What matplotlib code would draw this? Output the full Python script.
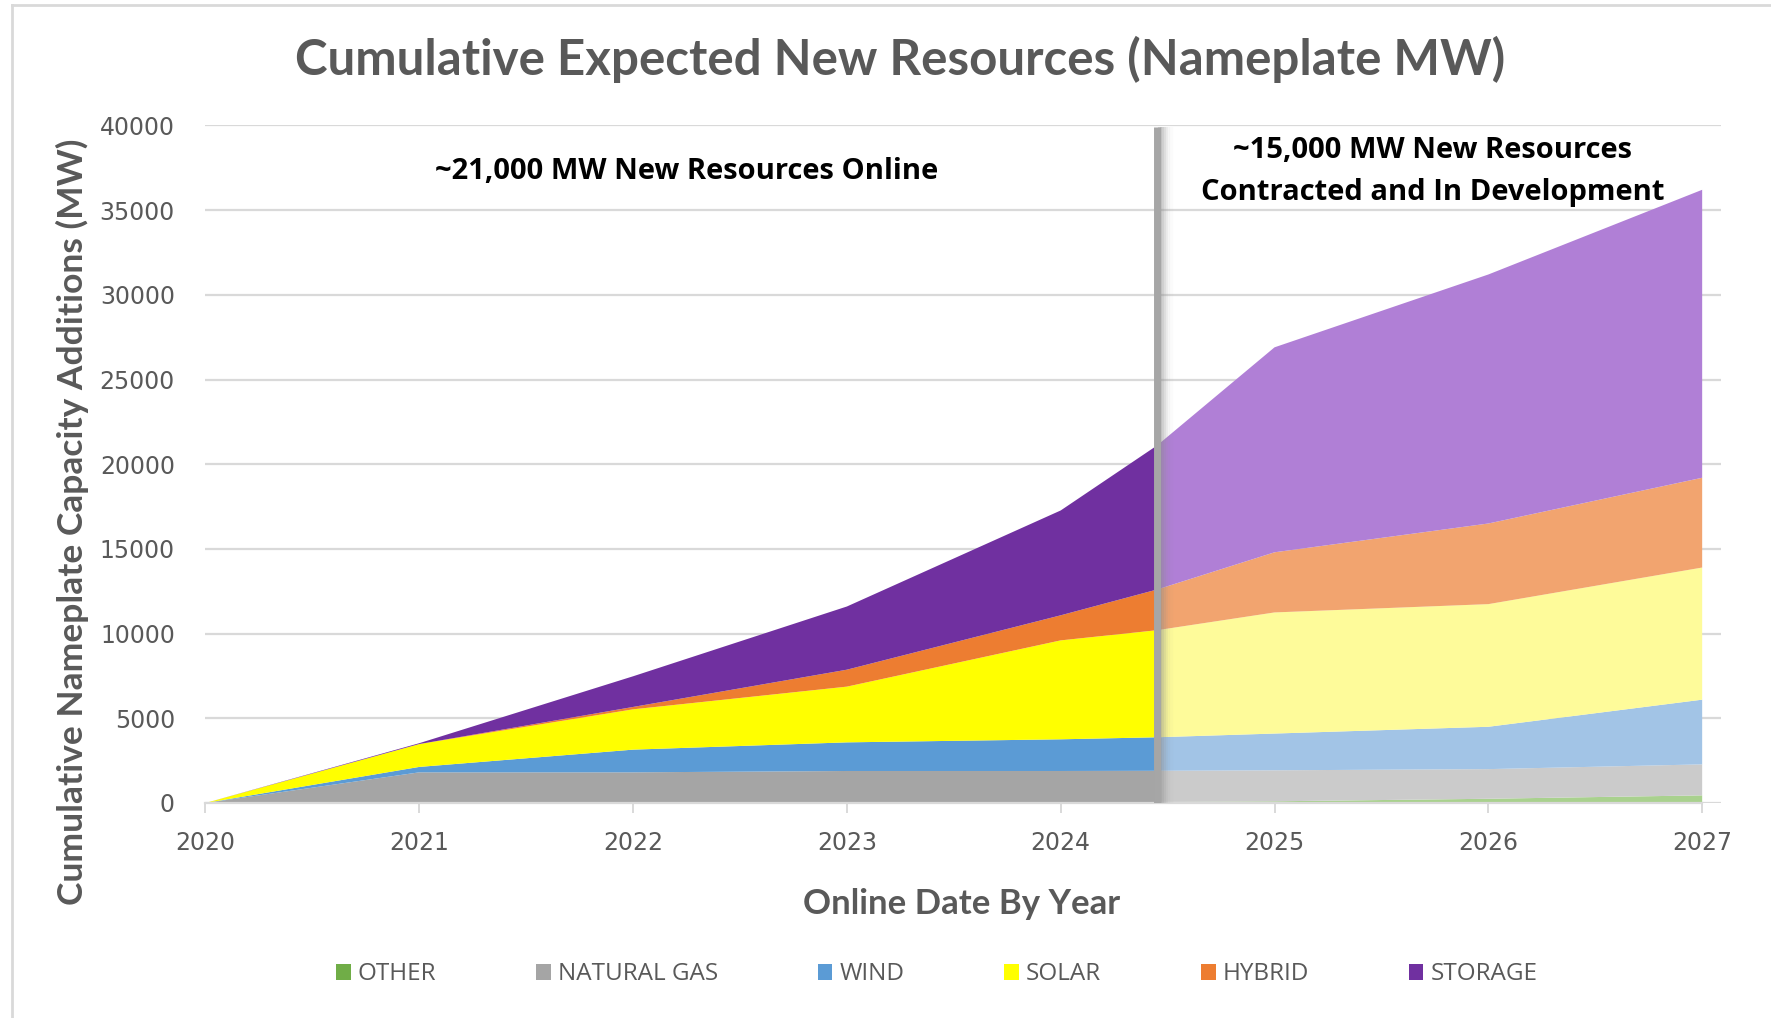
import matplotlib
matplotlib.use('Agg')

import matplotlib.pyplot as plt
from matplotlib.lines import Line2D

# Cumulative stacked resources, one point per year plus the "today" split
years = [2020, 2021, 2022, 2023, 2024, 2024.45, 2025, 2026, 2027]
split = 5  # index of the divider point
other = [0, 0, 0, 20, 50, 60, 100, 250, 450]
gas = [0, 1810, 1810, 1870, 1840, 1840, 1830, 1750, 1830]
wind = [0, 320, 1340, 1690, 1870, 1980, 2170, 2500, 3820]
solar = [0, 1350, 2380, 3290, 5840, 6320, 7150, 7240, 7800]
hybrid = [0, 0, 140, 1000, 1480, 2400, 3550, 4760, 5300]
storage = [0, 50, 1810, 3730, 6190, 8500, 12100, 14700, 17000]

labels = ['OTHER', 'NATURAL GAS', 'WIND', 'SOLAR', 'HYBRID', 'STORAGE']
dark = ['#70AD47', '#A5A5A5', '#5B9BD5', '#FFFF00', '#ED7D31', '#7030A0']
light = ['#A9D18E', '#CBCBCB', '#A2C4E6', '#FEFB9A', '#F2A46F', '#B07FD6']
tick_years = [2020, 2021, 2022, 2023, 2024, 2025, 2026, 2027]

GRAY = '#595959'

fig = plt.figure(figsize=(17.71, 10.18), dpi=100)
ax = fig.add_axes([0.116, 0.2112, 0.856, 0.6656])

series = [other, gas, wind, solar, hybrid, storage]
left = ax.stackplot(years[:split + 1], *[s[:split + 1] for s in series],
                    colors=dark, labels=labels, lw=0, zorder=2)
ax.stackplot(years[split:], *[s[split:] for s in series],
             colors=light, lw=0, zorder=2)

# divider with a soft shadow on its right
xd = years[split]
for i, a in enumerate([0.35, 0.26, 0.18, 0.11, 0.06, 0.03]):
    ax.plot([xd + 0.014 + i * 0.01] * 2, [0, 39900], color='#8C8C8C', lw=3,
            alpha=a, solid_capstyle='butt', zorder=3)
ax.plot([xd, xd], [0, 39900], color='#A6A6A6', lw=5, solid_capstyle='butt', zorder=4)

ax.set_xlim(2020, 2027.09)
ax.set_ylim(0, 40000)
ax.set_yticks(range(0, 40001, 5000))
ax.set_xticks(tick_years)
ax.set_xticklabels([str(y) for y in tick_years])
ax.grid(axis='y', color='#D9D9D9', lw=1.6, zorder=0)
ax.set_axisbelow(True)
for s in ['top', 'right', 'left']:
    ax.spines[s].set_visible(False)
ax.spines['bottom'].set_color('#D9D9D9')
ax.spines['bottom'].set_linewidth(1.6)
ax.spines['bottom'].set_bounds(2020, 2027)
ax.tick_params(axis='y', length=0, pad=22, labelsize=17, labelcolor=GRAY)
ax.tick_params(axis='x', length=7, width=1.4, color='#D9D9D9', pad=13,
               labelsize=17, labelcolor=GRAY)
for t in ax.get_xticklabels() + ax.get_yticklabels():
    t.set_family(['Liberation Sans Narrow', 'DejaVu Sans'])

ax.text(2022.25, 37300, '~21,000 MW New Resources Online', ha='center', va='center',
        fontsize=21, fontweight='bold', family='Open Sans', color='black', zorder=5)
ax.text(2025.74, 37300, '~15,000 MW New Resources\nContracted and In Development',
        ha='center', va='center', fontsize=21, fontweight='bold', family='Open Sans',
        color='black', linespacing=1.6, zorder=5)

fig.text(0.508, 0.942, 'Cumulative Expected New Resources (Nameplate MW)', ha='center',
         va='center', fontsize=35.5, fontweight='bold', family='Lato', color=GRAY)
fig.text(0.041, 0.487, 'Cumulative Nameplate Capacity Additions (MW)', ha='center',
         va='center', rotation=90, fontsize=25.5, fontweight='bold', family='Lato', color=GRAY)
fig.text(0.543, 0.112, 'Online Date By Year', ha='center', va='center',
         fontsize=25, fontweight='bold', family='Lato', color=GRAY)

leg = fig.legend(handles=left, labels=labels, loc='center', bbox_to_anchor=(0.529, 0.043),
                 ncol=6, frameon=False, handlelength=0.6, handleheight=0.65,
                 handletextpad=0.3, columnspacing=4.1,
                 prop={'family': 'Open Sans', 'size': 17.5})
for t in leg.get_texts():
    t.set_color(GRAY)

# chart border (cropped on the right and bottom)
fig.add_artist(Line2D([12 / 1771, 1], [1 - 5 / 1018] * 2, color='#D9D9D9', lw=2))
fig.add_artist(Line2D([12 / 1771] * 2, [0, 1 - 5 / 1018], color='#D9D9D9', lw=2))

fig.savefig('out.png', dpi=100)
